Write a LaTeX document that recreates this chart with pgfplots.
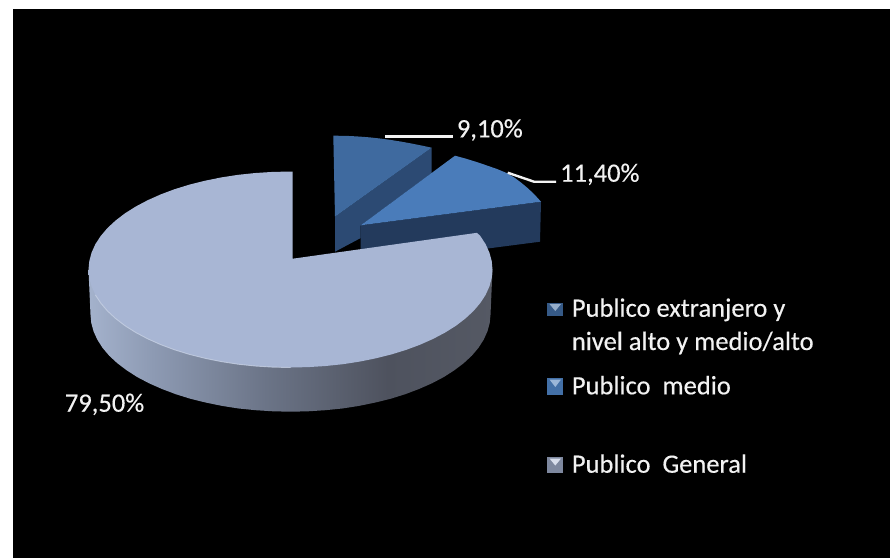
\documentclass[border=0pt]{standalone}
\usepackage{pgfplots}
\pgfplotsset{compat=1.18}
\usepackage{fontspec}
\setmainfont{Carlito}
\newfontfamily\labelfamily[FakeBold=0.35]{Carlito}

\definecolor{wallA}{HTML}{A4B2CC}
\definecolor{wallB}{HTML}{8D9AB3}
\definecolor{wallC}{HTML}{6B7487}
\definecolor{wallD}{HTML}{4E525E}
\definecolor{wallE}{HTML}{555964}

% Outer wall of the large slice: lit from the left, falling away to the right
\pgfdeclarehorizontalshading{pieside}{100bp}{
  color(0bp)=(wallA);
  color(25bp)=(wallA);
  color(33bp)=(wallB);
  color(47bp)=(wallC);
  color(62bp)=(wallD);
  color(75bp)=(wallE);
  color(100bp)=(wallE)}

\definecolor{topGen}{HTML}{A8B6D4}
\definecolor{topMed}{HTML}{4A7CBA}
\definecolor{sideMed}{HTML}{233A5C}
\definecolor{topExt}{HTML}{3F6A9F}
\definecolor{sideExt}{HTML}{2C4A73}
\definecolor{inkWhite}{HTML}{F2F2F2}

\newcommand{\labelfont}{\labelfamily\fontsize{26.5}{30}\selectfont}

\begin{document}
\begin{tikzpicture}
\begin{axis}[
  scale only axis, width=890pt, height=558pt,
  xmin=0, xmax=890, ymin=0, ymax=558, y dir=reverse,
  hide axis, clip=true,
  every axis plot/.append style={mark=none, line join=round},
]
% page and dark panel
\addplot[fill=white, draw=none] coordinates {(0,0) (890,0) (890,558) (0,558)} -- cycle;
\addplot[fill=black, draw=none] coordinates {(13,9) (890,9) (890,558) (13,558)} -- cycle;

% slice 9,10 %: wall, then top face
\addplot[fill=sideExt, draw=none] coordinates {
  (335,216.7) (431.7,147.7) (431.7,173) (360.7,225.3) (360.7,238) (335,251.7)} -- cycle;
\addplot[fill=topExt, draw=none] coordinates {
  (335,216.7) (333.3,135.7) (345,135.8) (357,136.4) (369,137.3) (380,138.5)
  (391,140) (401,141.6) (411,143.4) (421,145.4) (431.7,147.7)} -- cycle;

% slice 11,40 %: wall, then top face
\addplot[fill=sideMed, draw=none] coordinates {
  (360.7,225.3) (541,201.7) (540,241.7) (360.7,265)} -- cycle;
\addplot[fill=topMed, draw=none] coordinates {
  (360.7,225.3) (455,155.7) (465,158.4) (476,161.8) (487,165.5) (497,169)
  (506.7,173) (515,178) (521,182.5) (527,187.5) (534,194) (541,201.7)} -- cycle;

% slice 79,50 %: outer wall
\addplot[shading=pieside, draw=none] coordinates {
  (88.5,269.5)
  (90.5,314.7) (91.3,323.1) (93.6,331.5) (97.4,339.8) (102.6,347.9) (109.2,355.7)
  (117.3,363.2) (126.7,370.3) (137.3,377.1) (149.1,383.3) (162.0,389.0) (175.8,394.2)
  (190.5,398.8) (206.0,402.6) (222.1,405.9) (238.7,408.5) (255.8,410.2) (273.1,411.3)
  (290.5,411.7) (307.9,411.3) (325.2,410.2) (342.3,408.5) (358.9,405.9) (375.0,402.6)
  (390.5,398.8) (405.2,394.2) (419.0,389.0) (431.9,383.3) (443.7,377.1) (454.3,370.3)
  (463.7,363.2) (471.8,355.7) (478.4,347.9) (483.6,339.8) (487.4,331.5) (489.7,323.1)
  (490.5,314.7) (492.5,269.5)} -- cycle;

% slice 79,50 %: top face
\addplot[fill=topGen, draw=none] coordinates {
  (292.7,258.7) (292.7,171.5)
  (272.9,171.9) (255.4,173.0) (238.2,174.8) (221.4,177.4) (205.1,180.7) (189.5,184.6)
  (174.6,189.2) (160.7,194.4) (147.7,200.2) (135.8,206.5) (125.0,213.3) (115.6,220.5)
  (107.4,228.1) (100.7,236.0) (95.4,244.1) (91.6,252.5) (89.3,261.0) (88.5,269.5)
  (89.3,278.0) (91.6,286.5) (95.4,294.9) (100.7,303.0) (107.4,310.9) (115.6,318.5)
  (125.0,325.7) (135.8,332.5) (147.7,338.8) (160.7,344.6) (174.6,349.8) (189.5,354.4)
  (205.1,358.3) (221.4,361.6) (238.2,364.2) (255.4,366.0) (272.9,367.1) (290.5,367.5)
  (308.1,367.1) (325.6,366.0) (342.8,364.2) (359.6,361.6) (375.9,358.3) (391.5,354.4)
  (406.4,349.8) (420.3,344.6) (433.3,338.8) (445.2,332.5) (456.0,325.7) (465.4,318.5)
  (473.6,310.9) (480.3,303.0) (485.6,294.9) (489.4,286.5) (491.7,278.0) (492.5,269.5)
  (491.7,261.0) (489.4,252.5) (485.6,244.1) (480.3,236.0) (477.0,232.8)} -- cycle;

% bevel highlight along the front rim
\addplot[color=white!35!topGen, line width=0.9pt, opacity=0.8] coordinates {
  (95.4,294.9) (100.7,303.0) (107.4,310.9) (115.6,318.5) (125.0,325.7) (135.8,332.5)
  (147.7,338.8) (160.7,344.6) (174.6,349.8) (189.5,354.4) (205.1,358.3) (221.4,361.6)
  (238.2,364.2) (255.4,366.0) (272.9,367.1) (290.5,367.5)};

% leader lines
\addplot[color=inkWhite, line width=2.6pt] coordinates {(385,136.7) (453.3,136.7)};
\addplot[color=inkWhite, line width=2.4pt] coordinates {(507.7,172.7) (534,181.7) (556,181.7)};

% value labels
\node[anchor=base west, inner sep=0pt, text=inkWhite, font=\labelfont] at (axis cs:456.7,137.3) {9,10\%};
\node[anchor=base west, inner sep=0pt, text=inkWhite, font=\labelfont] at (axis cs:560,181.7) {11,40\%};
\node[anchor=base west, inner sep=0pt, text=inkWhite, font=\labelfont] at (axis cs:64.7,411.7) {79,50\%};

% legend keys
\addplot[fill=topExt!85!black, draw=none] coordinates {(547.3,302.7) (563.3,302.7) (563.3,316.3) (547.3,316.3)} -- cycle;
\addplot[fill=topExt!55!white, draw=none] coordinates {(549.5,304) (561,304) (555.3,311)} -- cycle;
\addplot[fill=topMed!90!black, draw=none] coordinates {(547.3,378) (563.3,378) (563.3,395) (547.3,395)} -- cycle;
\addplot[fill=topMed!55!white, draw=none] coordinates {(549.5,379.5) (561,379.5) (555.3,387)} -- cycle;
\addplot[fill=topGen!75!black, draw=none] coordinates {(547.3,457) (563.3,457) (563.3,472.5) (547.3,472.5)} -- cycle;
\addplot[fill=topGen!45!white, draw=none] coordinates {(549.5,458.5) (561,458.5) (555.3,465.5)} -- cycle;

% legend entries
\node[anchor=base west, inner sep=0pt, text=inkWhite, font=\labelfont] at (axis cs:571.7,316.7) {Publico extranjero y};
\node[anchor=base west, inner sep=0pt, text=inkWhite, font=\labelfont] at (axis cs:571.7,350) {nivel alto y medio/alto};
\node[anchor=base west, inner sep=0pt, text=inkWhite, font=\labelfont] at (axis cs:571.7,394.3) {Publico\ \ medio};
\node[anchor=base west, inner sep=0pt, text=inkWhite, font=\labelfont] at (axis cs:571.7,472.7) {Publico\ \ General};
\end{axis}
\end{tikzpicture}
\end{document}
